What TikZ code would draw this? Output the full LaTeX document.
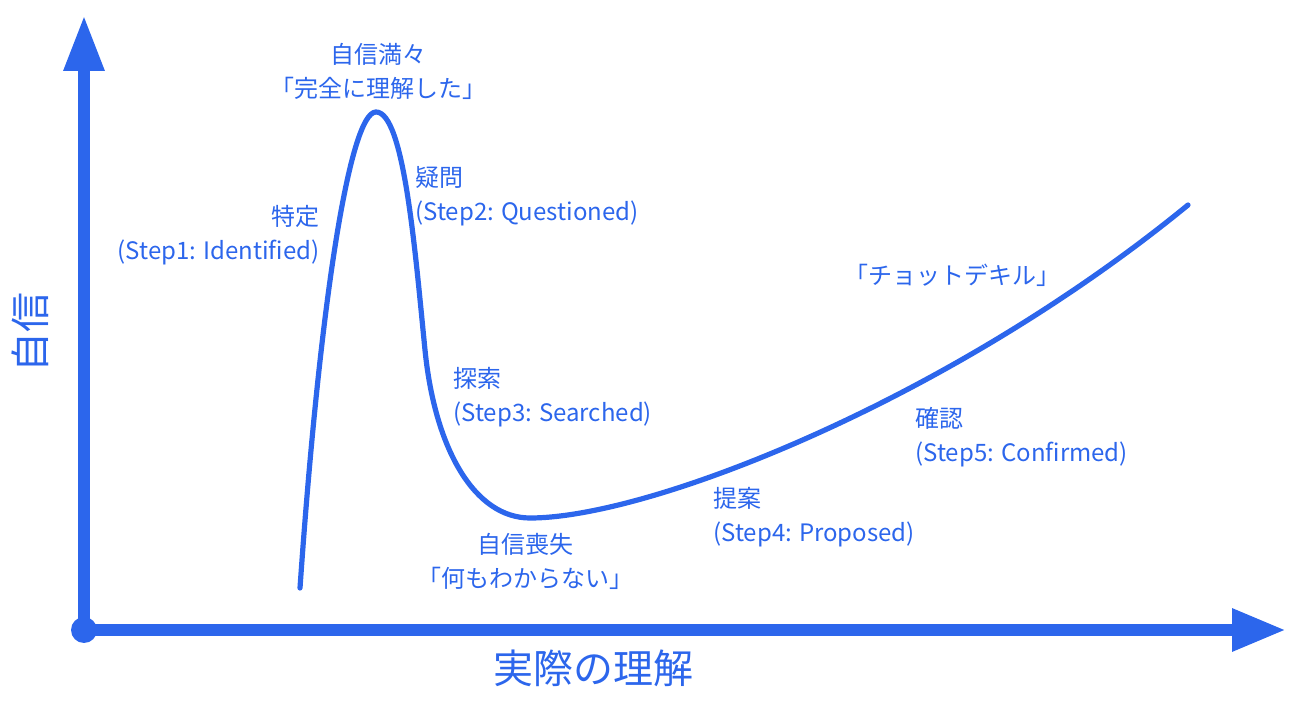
\documentclass[tikz,border=0pt]{standalone}
\usepackage{fontspec}
\setmainfont{Noto Sans CJK JP}
\usepackage{xcolor}
\usepackage{tikz}
\usetikzlibrary{arrows.meta,positioning}
\definecolor{curveblue}{RGB}{44,102,236}

\begin{document}
\begin{tikzpicture}[x=0.5pt,y=-0.5pt,
    axis/.style={curveblue, line width=6pt},
    lbl/.style={text=curveblue, inner sep=0pt, font=\fontsize{12pt}{17pt}\selectfont},
    axislbl/.style={text=curveblue, inner sep=0pt, font=\fontsize{20pt}{24pt}\selectfont}]
    \useasboundingbox (0,0) rectangle (1300,704);

    % Axes
    \coordinate (origin) at (84,630);
    \coordinate (ytip) at (84,15);
    \coordinate (xtip) at (1286,630);
    \draw[axis, -{Triangle[length=28pt,width=19pt]}] (origin) -- (ytip);
    \draw[axis, -{Triangle[length=27pt,width=20pt]}] (origin) -- (xtip);
    \fill[curveblue] (origin) circle (6.5pt);
    \node[axislbl, rotate=90] (ylabel) at (30,333) {自信};
    \node[axislbl] (xlabel) at (593,668) {実際の理解};

    % Confidence curve
    \coordinate (start) at (300,588);
    \coordinate (top) at (376,112);
    \coordinate (fall) at (425,350);
    \coordinate (bottom) at (530,518);
    \coordinate (end) at (1188,205);
    \draw[curveblue, line width=2.6pt, line cap=round]
        (start) .. controls (320,300) and (350,112) .. (top)
        .. controls (404,112) and (415,250) .. (fall)
        .. controls (435,450) and (475,518) .. (bottom)
        .. controls (650,518) and (950,400) .. (end);

    % Labels
    \node[lbl, align=center] (peak) at (378,71) {自信満々\\「完全に理解した」};
    \node[lbl, align=right, anchor=east] (step1) at (320,235) {特定\\(Step1: Identified)};
    \node[lbl, align=left, anchor=west] (step2) at (415,196) {疑問\\(Step2: Questioned)};
    \node[lbl, align=left, anchor=west] (step3) at (453,397) {探索\\(Step3: Searched)};
    \node[lbl, align=center] (trough) at (525,561) {自信喪失\\「何もわからない」};
    \node[lbl, align=left, anchor=west] (step4) at (713,517) {提案\\(Step4: Proposed)};
    \node[lbl, align=left, anchor=west] (step5) at (915,437) {確認\\(Step5: Confirmed)};
    \node[lbl] (expert) at (952,275) {「チョットデキル」};
\end{tikzpicture}
\end{document}
